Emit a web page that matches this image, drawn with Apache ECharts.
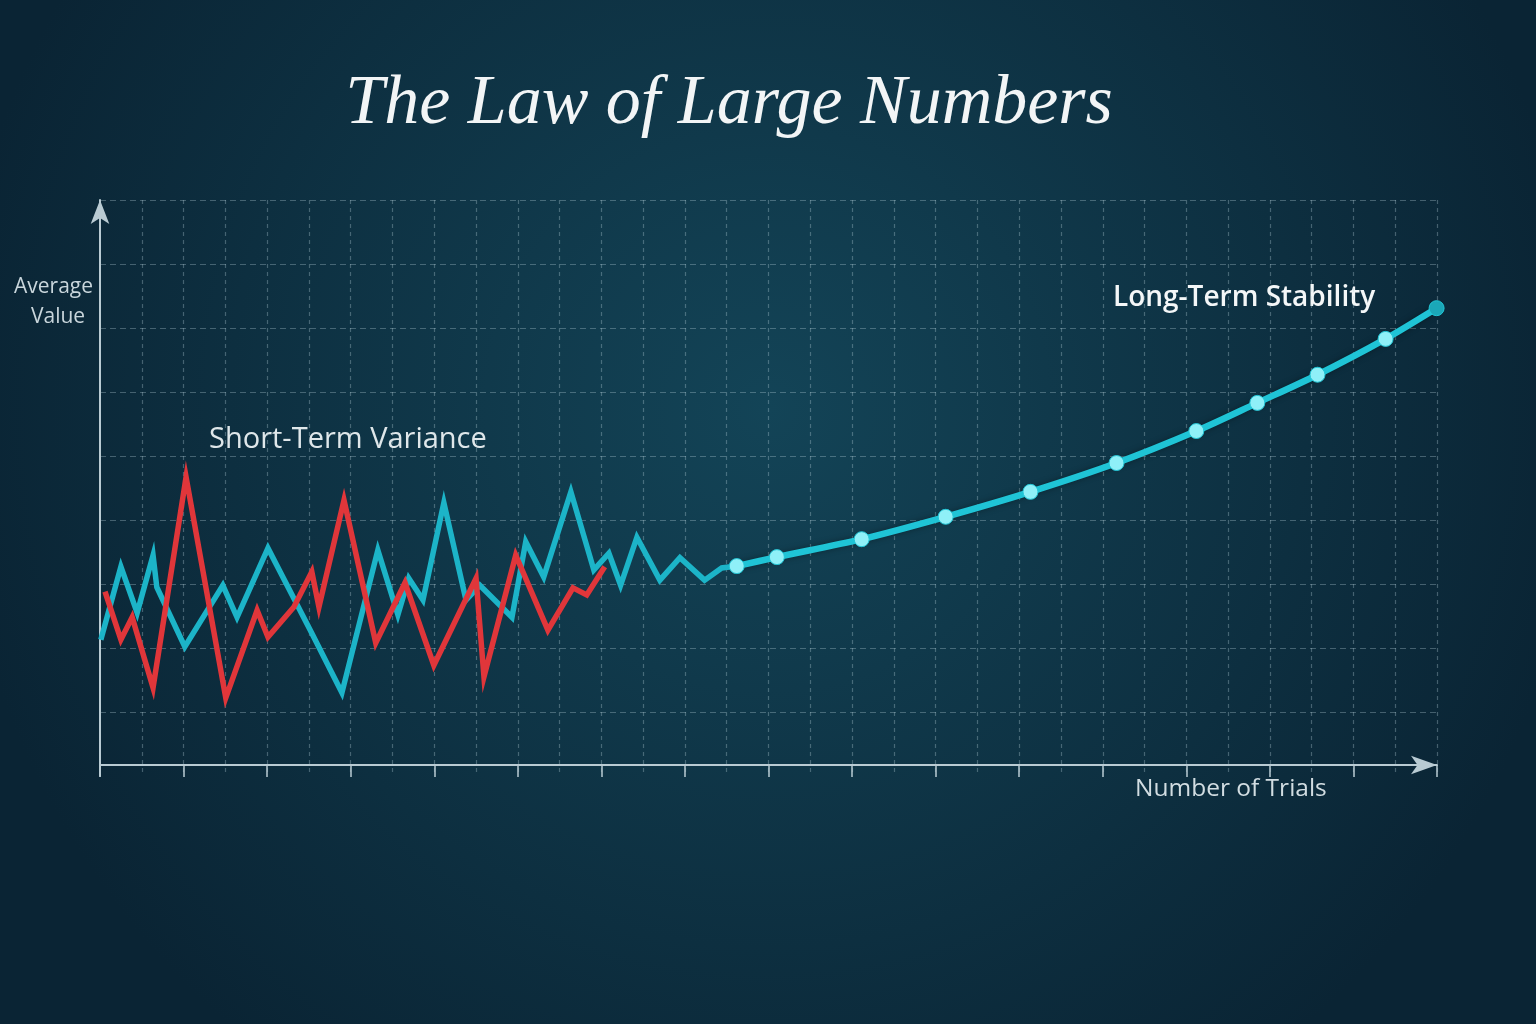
<!DOCTYPE html>
<html>
<head>
<meta charset="utf-8">
<script src="https://cdn.jsdelivr.net/npm/echarts@6/dist/echarts.min.js"></script>
<style>
  html, body { margin: 0; padding: 0; background: #0d2d3e; }
  #chart { width: 1536px; height: 1024px; }
</style>
</head>
<body>
<div id="chart"></div>
<script>
// short-term runs (trial, average)
const redX = [0.12, 0.5, 0.77, 1.27, 2.06, 3.01, 3.76, 4.02, 4.64, 5.07, 5.24, 5.84, 6.6, 7.3, 7.99, 9.0, 9.19, 9.95, 10.72, 11.32, 11.65, 12.08]
const redY = [2.88, 2.13, 2.48, 1.38, 4.67, 1.22, 2.59, 2.17, 2.64, 3.19, 2.64, 4.31, 2.08, 3.02, 1.73, 3.09, 1.55, 3.45, 2.28, 2.94, 2.83, 3.27]

const tealX = [0.02, 0.5, 0.89, 1.27, 1.36, 2.03, 2.94, 3.28, 4.02, 5.07, 5.79, 6.65, 7.13, 7.39, 7.73, 8.23, 8.76, 9.09, 9.86, 10.19, 10.62, 11.27, 11.82, 12.18, 12.46, 12.85, 13.4, 13.88, 14.47, 14.88, 15.24]
const tealY = [2.13, 3.27, 2.55, 3.45, 2.95, 2.02, 2.98, 2.48, 3.56, 2.23, 1.3, 3.53, 2.52, 3.09, 2.75, 4.27, 2.75, 2.98, 2.48, 3.66, 3.11, 4.44, 3.22, 3.48, 2.98, 3.73, 3.06, 3.41, 3.06, 3.25, 3.28]

// long-term trend
const longX = [15.24, 16.2, 18.23, 20.24, 22.27, 24.33, 26.24, 27.7, 29.14, 30.77, 31.99]
const longY = [3.28, 3.42, 3.7, 4.05, 4.44, 4.89, 5.39, 5.83, 6.27, 6.83, 7.31]

const zip = (xs, ys) => xs.map((x, i) => [x, ys[i]])

const gridColor = 'rgba(190,215,225,0.32)'
const axisColor = '#b9cbd3'
const sans = 'Open Sans'

const longData = zip(longX, longY).map((p, i, arr) => i === arr.length - 1
    ? { value: p, itemStyle: { color: '#1ba7b8' } } : p)

const option = {
    backgroundColor: {
        type: 'radial', x: 0.5, y: 0.4, r: 0.8,
        colorStops: [{ offset: 0, color: '#134457' }, { offset: 1, color: '#0a2434' }]
    },
    animation: false,
    title: {
        text: 'The Law of Large Numbers',
        left: 724, top: 65, textAlign: 'center',
        textStyle: { fontFamily: 'Liberation Serif', fontStyle: 'italic', fontWeight: 'normal', fontSize: 70, color: '#f2f5f6' }
    },
    grid: { left: 100, right: 99, top: 200, bottom: 248 },
    xAxis: [{
        type: 'value', min: 0, max: 32, interval: 1, offset: -11,
        axisLine: { show: true, symbol: ['none', 'arrow'], symbolSize: [14, 26], lineStyle: { color: axisColor, width: 2 } },
        axisTick: { show: false }, axisLabel: { show: false },
        splitLine: { show: true, showMinLine: false, lineStyle: { color: gridColor, type: [4, 4], width: 1.2 } }
    }, {
        type: 'value', min: 0, max: 32, interval: 2, position: 'bottom', offset: -11,
        axisLine: { show: false }, axisLabel: { show: false }, splitLine: { show: false },
        axisTick: { show: true, length: 12, lineStyle: { color: axisColor, width: 1.5 } }
    }],
    yAxis: {
        type: 'value', min: 0, max: 9, interval: 1,
        axisLine: { show: true, symbol: ['none', 'arrow'], symbolSize: [14, 24], lineStyle: { color: axisColor, width: 2 } },
        axisTick: { show: false }, axisLabel: { show: false },
        splitLine: { show: true, showMinLine: false, lineStyle: { color: gridColor, type: [6, 4], width: 1.2 } }
    },
    series: [{
        type: 'line', data: zip(tealX, tealY), showSymbol: false,
        lineStyle: { color: '#1cb4c8', width: 5.5, join: 'miter' }, z: 3
    }, {
        type: 'line', data: zip(redX, redY), showSymbol: false,
        lineStyle: { color: '#e0363a', width: 5.5, join: 'miter' }, z: 4
    }, {
        type: 'line', data: longData, smooth: 0.3,
        symbol: 'circle', symbolSize: 15,
        itemStyle: { color: '#8ff0f8', borderColor: '#22c6d6', borderWidth: 1 },
        lineStyle: { color: '#1fc4d6', width: 6.5, shadowColor: 'rgba(0,0,0,0.35)', shadowBlur: 6 }, z: 5
    }],
    graphic: [
        { type: 'text', left: 14, top: 277, style: { text: 'Average', font: `21px "${sans}"`, fill: '#c9d6dc' } },
        { type: 'text', left: 31, top: 307, style: { text: 'Value', font: `21px "${sans}"`, fill: '#c9d6dc' } },
        { type: 'text', left: 209, top: 425, style: { text: 'Short-Term Variance', font: `500 29px "${sans}"`, fill: '#dfe7ea' } },
        { type: 'text', left: 1113, top: 284, style: { text: 'Long-Term Stability', font: `600 28px "${sans}"`, fill: '#f4f7f8' } },
        { type: 'text', left: 1135, top: 777, style: { text: 'Number of Trials', font: `24.5px "${sans}"`, fill: '#d2dde2' } }
    ]
}

const chart = echarts.init(document.getElementById('chart'))
chart.setOption(option)
</script>
</body>
</html>
